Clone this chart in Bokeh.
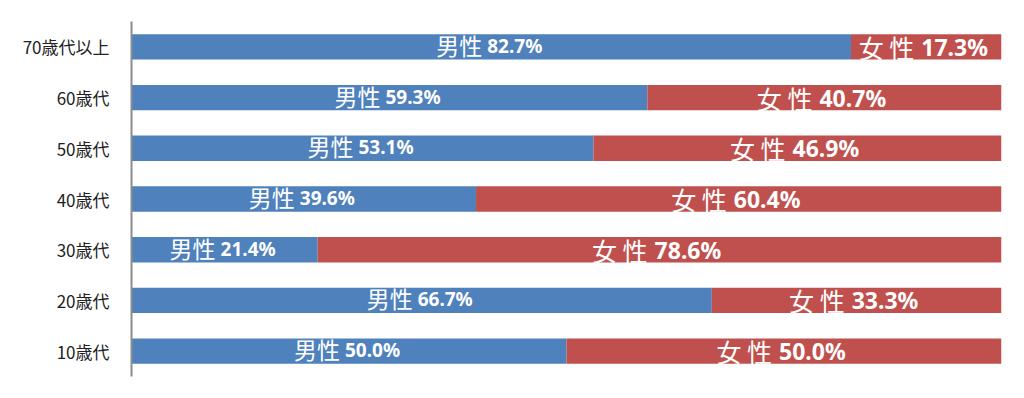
from bokeh.plotting import figure
from bokeh.models import ColumnDataSource, FactorRange, Range1d
from bokeh.core.properties import value
from bokeh.embed import file_html
from bokeh.resources import INLINE

# Data (bottom to top)
categories = ["10歳代", "20歳代", "30歳代", "40歳代", "50歳代", "60歳代", "70歳代以上"]
male = [50.0, 66.7, 21.4, 39.6, 53.1, 59.3, 82.7]
female = [50.0, 33.3, 78.6, 60.4, 46.9, 40.7, 17.3]
male_label = "男性"
female_label = "女 性"

BLUE = "#4F81BD"
RED = "#C0504D"

src = ColumnDataSource(dict(
    cat=categories,
    male=male,
    total=[m + f for m, f in zip(male, female)],
    zero=[0] * len(categories),
    male_mid=[m / 2 for m in male],
    female_mid=[m + f / 2 for m, f in zip(male, female)],
    male_txt=[male_label] * len(categories),
    female_txt=[female_label] * len(categories),
    male_num=[f"{m:.1f}%" for m in male],
    female_num=[f"{f:.1f}%" for f in female],
))

p = figure(width=1024, height=398, output_backend="svg", toolbar_location=None,
           y_range=FactorRange(*categories, range_padding=0),
           x_range=Range1d(0, 100))
p.min_border_left = 131
p.min_border_right = 23
p.min_border_top = 21
p.min_border_bottom = 22
p.outline_line_color = None
p.xgrid.grid_line_color = None
p.ygrid.grid_line_color = None
p.xaxis.visible = False

p.yaxis.axis_line_color = "#8C8C8C"
p.yaxis.axis_line_width = 2
p.yaxis.major_tick_line_color = None
p.yaxis.minor_tick_line_color = None
p.yaxis.major_label_standoff = 16
p.yaxis.major_label_text_font = "Noto Sans CJK JP"
p.yaxis.major_label_text_font_size = "17px"
p.yaxis.major_label_text_color = "#222222"

p.hbar(y="cat", left="zero", right="male", height=0.5, source=src,
       fill_color=BLUE, line_color=None)
p.hbar(y="cat", left="male", right="total", height=0.5, source=src,
       fill_color=RED, line_color=None)

# male labels
p.text(x="male_mid", y="cat", text="male_txt", source=src,
       text_align="right", text_baseline="middle", x_offset=-9, y_offset=-2,
       text_font=value("Noto Sans CJK JP"), text_font_size="23px",
       text_color="white")
p.text(x="male_mid", y="cat", text="male_num", source=src,
       text_align="left", text_baseline="middle", x_offset=-4, y_offset=-1,
       text_font=value("Noto Sans"), text_font_style="bold", text_font_size="19px",
       text_color="white")
# female labels
p.text(x="female_mid", y="cat", text="female_txt", source=src,
       text_align="right", text_baseline="middle", x_offset=-12, y_offset=0,
       text_font=value("Noto Sans CJK JP"), text_font_size="25px",
       text_color="white")
p.text(x="female_mid", y="cat", text="female_num", source=src,
       text_align="left", text_baseline="middle", x_offset=-5, y_offset=0,
       text_font=value("Noto Sans"), text_font_style="bold", text_font_size="23px",
       text_color="white")

open("out.html", "w").write(file_html(p, INLINE))
